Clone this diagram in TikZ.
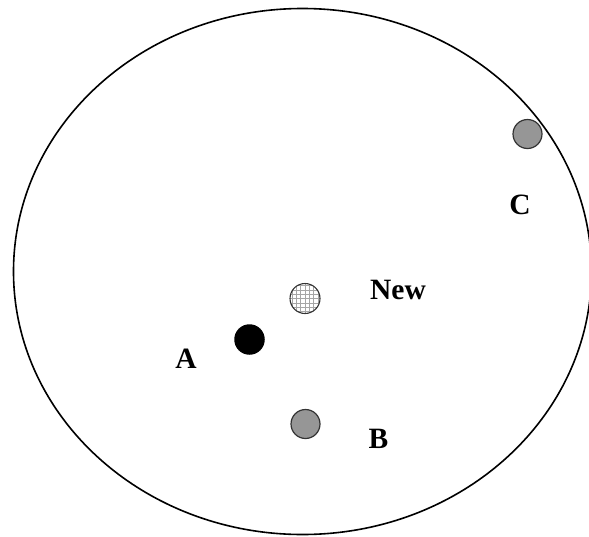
\documentclass[tikz,border=0pt]{standalone}
\usepackage{fontspec}
\setmainfont{Liberation Serif}
\begin{document}
\begin{tikzpicture}[x=1pt,y=-1pt,
  dot/.style={circle,draw=black!80,line width=1.2pt,minimum size=29pt,inner sep=0pt},
  graydot/.style={dot,fill={rgb,255:red,150;green,150;blue,150}},
  blackdot/.style={circle,fill=black,minimum size=30.5pt,inner sep=0pt},
  lbl/.style={inner sep=0pt,font=\fontsize{29.5}{34}\selectfont\bfseries}]
\useasboundingbox (0,0) rectangle (589,536);
\begin{scope}
\clip (0,0) rectangle (589,536);
\draw[line width=1.6pt] (302.5,271.5) ellipse [x radius=289pt, y radius=263pt];
\end{scope}
\node[graydot] (c) at (527.5,134) {};
\node[graydot] (b) at (305.5,424) {};
\node[blackdot] (a) at (249.5,339.5) {};
\begin{scope}
  \clip (305,298.5) circle [radius=15pt];
  \draw[black!35,line width=0.5pt,step=4.3pt,shift={(305,298.5)}] (-20pt,-20pt) grid (20pt,20pt);
\end{scope}
\node[dot,minimum size=30pt,line width=1.1pt] (new) at (305,298.5) {};
\node[lbl] (lc) at (520,205) {C};
\node[lbl] (lnew) at (398,290) {New};
\node[lbl] (la) at (186,359) {A};
\node[lbl] (lb) at (378.5,439) {B};
\end{tikzpicture}
\end{document}
